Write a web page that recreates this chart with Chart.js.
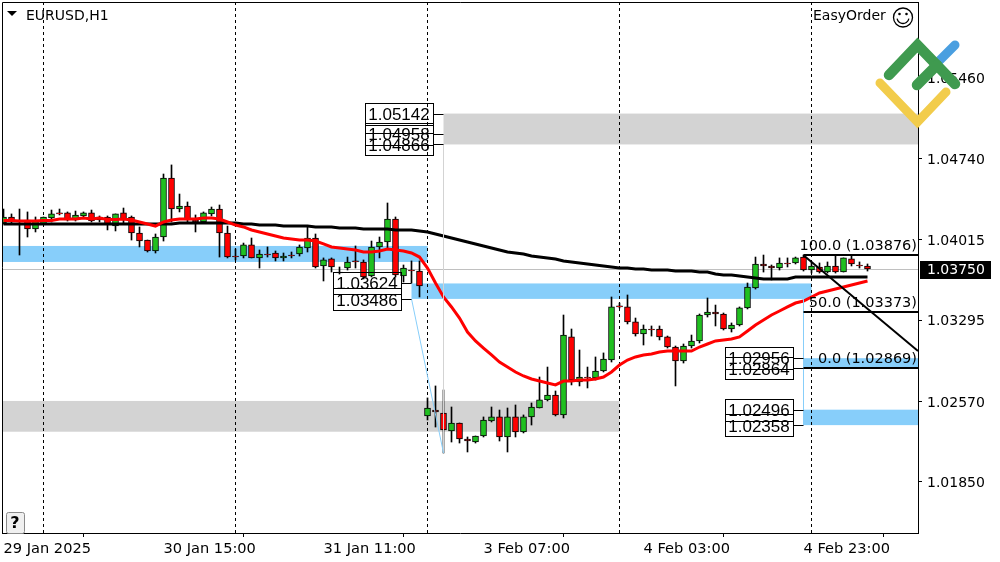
<!DOCTYPE html>
<html>
<head>
<meta charset="utf-8">
<style>html,body{margin:0;padding:0;background:#fff}canvas{display:block}</style>
<script src="https://cdn.jsdelivr.net/npm/chart.js@4/dist/chart.umd.min.js"></script>
</head>
<body>
<canvas id="c" width="1000" height="562"></canvas>
<script>
const symbolTitle = "EURUSD,H1";
const expertName = "EasyOrder";
const tickBars = [0, 20, 40, 60, 80, 100];
const tickLabels = ["29 Jan 2025", "30 Jan 15:00", "31 Jan 11:00", "3 Feb 07:00", "4 Feb 03:00", "4 Feb 23:00"];
const priceTicks = [1.0546, 1.0474, 1.04015, 1.03295, 1.0257, 1.0185];
const daySeparators = [5, 29, 53, 77, 101];
const bidPrice = 1.0375;

const opens = [1.04164,1.04218,1.04182,1.04191,1.04111,1.04155,1.04209,1.04254,1.04254,1.04191,
1.04227,1.04254,1.04218,1.04218,1.04137,1.04254,1.04218,1.04075,1.04012,1.03914,
1.04039,1.04566,1.04289,1.04316,1.04191,1.04173,1.04245,1.04289,1.04075,1.03869,
1.03869,1.03968,1.03852,1.03887,1.03896,1.03852,1.03878,1.03887,1.03941,1.04030,
1.03780,1.03843,1.03726,1.03762,1.03825,1.03816,1.03691,1.03950,1.03994,1.04200,
1.03691,1.03744,1.03735,1.02440,1.02493,1.02466,1.02306,1.02377,1.02234,1.02207,
1.02261,1.02395,1.02431,1.02252,1.02431,1.02297,1.02431,1.02511,1.02583,1.02627,
1.02449,1.03146,1.02743,1.02788,1.02779,1.02842,1.02940,1.03423,1.03414,1.03280,
1.03172,1.03217,1.03217,1.03146,1.03056,1.02931,1.03065,1.03110,1.03342,1.03369,
1.03351,1.03217,1.03253,1.03405,1.03583,1.03798,1.03780,1.03762,1.03807,1.03807,
1.03860,1.03744,1.03771,1.03726,1.03780,1.03726,1.03843,1.03789,1.03780];
const closes = [1.04218,1.04173,1.04173,1.04111,1.04182,1.04218,1.04245,1.04245,1.04191,1.04236,
1.04254,1.04182,1.04191,1.04155,1.04245,1.04191,1.04075,1.04003,1.03914,1.04039,
1.04566,1.04289,1.04316,1.04191,1.04173,1.04254,1.04289,1.04075,1.03860,1.03860,
1.03968,1.03852,1.03887,1.03878,1.03852,1.03869,1.03869,1.03950,1.04030,1.03771,
1.03834,1.03771,1.03717,1.03816,1.03816,1.03682,1.03950,1.03994,1.04200,1.03700,
1.03762,1.03735,1.03601,1.02511,1.02475,1.02315,1.02377,1.02234,1.02216,1.02261,
1.02404,1.02431,1.02252,1.02431,1.02297,1.02431,1.02520,1.02583,1.02627,1.02449,
1.03163,1.02761,1.02788,1.02779,1.02842,1.02949,1.03414,1.03414,1.03280,1.03172,
1.03217,1.03208,1.03146,1.03056,1.02931,1.03065,1.03110,1.03342,1.03369,1.03351,
1.03217,1.03253,1.03405,1.03592,1.03798,1.03780,1.03762,1.03807,1.03798,1.03852,
1.03744,1.03780,1.03726,1.03780,1.03726,1.03852,1.03798,1.03780,1.03753];
const highs = [1.04289,1.04245,1.04289,1.04263,1.04218,1.04218,1.04280,1.04289,1.04263,1.04271,
1.04263,1.04280,1.04227,1.04227,1.04245,1.04298,1.04227,1.04129,1.04012,1.04066,
1.04602,1.04683,1.04423,1.04352,1.04236,1.04263,1.04307,1.04325,1.04137,1.03932,
1.03985,1.04030,1.03923,1.03950,1.03914,1.03896,1.03905,1.03968,1.04129,1.04066,
1.03852,1.03852,1.03771,1.03860,1.03959,1.03834,1.04003,1.04039,1.04343,1.04218,
1.03789,1.03825,1.03825,1.02601,1.02708,1.02672,1.02520,1.02377,1.02252,1.02261,
1.02431,1.02520,1.02493,1.02511,1.02538,1.02449,1.02556,1.02788,1.02877,1.02663,
1.03342,1.03217,1.03029,1.02877,1.02967,1.03003,1.03503,1.03449,1.03521,1.03315,
1.03253,1.03244,1.03244,1.03154,1.03065,1.03083,1.03163,1.03351,1.03494,1.03431,
1.03360,1.03271,1.03414,1.03628,1.03860,1.03878,1.03789,1.03852,1.03852,1.03860,
1.03878,1.03816,1.03807,1.03816,1.03869,1.03852,1.03878,1.03816,1.03798];
const lows = [1.04155,1.04155,1.03878,1.04039,1.04084,1.04155,1.04173,1.04236,1.04182,1.04182,
1.04218,1.04173,1.04173,1.04102,1.04093,1.04155,1.04012,1.03950,1.03905,1.03896,
1.04003,1.04173,1.04263,1.04173,1.04084,1.04164,1.04227,1.03860,1.03852,1.03834,
1.03852,1.03852,1.03762,1.03860,1.03825,1.03825,1.03852,1.03869,1.03905,1.03762,
1.03646,1.03726,1.03708,1.03744,1.03762,1.03664,1.03682,1.03852,1.03941,1.03682,
1.03637,1.03628,1.03503,1.02404,1.02341,1.02109,1.02207,1.02198,1.02118,1.02198,
1.02252,1.02386,1.02216,1.02118,1.02252,1.02288,1.02359,1.02511,1.02574,1.02440,
1.02422,1.02717,1.02708,1.02690,1.02761,1.02833,1.02922,1.03405,1.03262,1.03154,
1.03074,1.03154,1.03119,1.03047,1.02708,1.02913,1.03047,1.03092,1.03324,1.03244,
1.03208,1.03190,1.03244,1.03396,1.03574,1.03726,1.03655,1.03744,1.03771,1.03798,
1.03735,1.03717,1.03717,1.03717,1.03717,1.03726,1.03780,1.03762,1.03735];
const fastMA = [1.04187,1.04187,1.04182,1.04182,1.04182,1.04187,1.04187,1.04200,1.04200,1.04200,
1.04209,1.04200,1.04209,1.04196,1.04196,1.04200,1.04191,1.04173,1.04155,1.04137,
1.04173,1.04191,1.04200,1.04200,1.04200,1.04209,1.04209,1.04200,1.04173,1.04146,
1.04129,1.04102,1.04084,1.04066,1.04048,1.04030,1.04021,1.04012,1.04012,1.04003,
1.03977,1.03950,1.03941,1.03932,1.03923,1.03905,1.03905,1.03914,1.03932,1.03923,
1.03914,1.03896,1.03860,1.03762,1.03628,1.03503,1.03414,1.03315,1.03190,1.03110,
1.03047,1.02985,1.02922,1.02877,1.02833,1.02797,1.02770,1.02752,1.02735,1.02717,
1.02752,1.02752,1.02761,1.02761,1.02770,1.02788,1.02833,1.02895,1.02940,1.02967,
1.02985,1.02994,1.03012,1.03020,1.03020,1.03020,1.03020,1.03056,1.03083,1.03110,
1.03119,1.03128,1.03146,1.03199,1.03253,1.03297,1.03342,1.03378,1.03414,1.03449,
1.03467,1.03503,1.03539,1.03557,1.03574,1.03592,1.03610,1.03628,1.03646];
const slowMA = [1.04155,1.04155,1.04155,1.04155,1.04155,1.04155,1.04155,1.04155,1.04155,1.04155,
1.04155,1.04155,1.04155,1.04155,1.04155,1.04155,1.04155,1.04155,1.04155,1.04155,
1.04155,1.04155,1.04164,1.04164,1.04164,1.04164,1.04164,1.04164,1.04164,1.04164,
1.04155,1.04155,1.04146,1.04146,1.04146,1.04137,1.04137,1.04137,1.04137,1.04129,
1.04129,1.04129,1.04120,1.04120,1.04120,1.04111,1.04111,1.04111,1.04111,1.04102,
1.04102,1.04102,1.04093,1.04084,1.04066,1.04048,1.04030,1.04012,1.03994,1.03977,
1.03959,1.03941,1.03923,1.03905,1.03896,1.03887,1.03869,1.03860,1.03852,1.03843,
1.03825,1.03816,1.03807,1.03798,1.03789,1.03780,1.03771,1.03762,1.03762,1.03753,
1.03753,1.03744,1.03744,1.03744,1.03735,1.03735,1.03735,1.03726,1.03726,1.03708,
1.03700,1.03700,1.03691,1.03682,1.03673,1.03664,1.03664,1.03664,1.03664,1.03682,
1.03682,1.03682,1.03682,1.03682,1.03682,1.03682,1.03682,1.03682,1.03682];

// [fromBar, toBar, highPrice, lowPrice]
const blueZones = [[-1, 53, 1.03959, 1.03816], [51, 101, 1.03624, 1.03486], [100, 120, 1.02956, 1.02864], [100, 120, 1.02496, 1.02358]];
const grayZones = [[55, 120, 1.05142, 1.04866], [-1, 77, 1.02574, 1.02299]];
const fibPrices = [1.03876, 1.03373, 1.02869];
const fibLabels = ["100.0 (1.03876)", "50.0 (1.03373)", "0.0 (1.02869)"];
const boxGroups = [[1.05142, 1.04958, 1.04866], [1.03624, 1.03486], [1.02956, 1.02864], [1.02496, 1.02358]];
const boxBars = [55, 51, 100, 100];
const swingDrop = [[51, 1.03486], [55, 1.02109]];
const zigzagPivot = [[55, 1.04866], [55, 1.02109]];
const fibSpine = [[100, 1.03486], [100, 1.02358]];
const fibDiagonal = [[100, 1.03876], [114.3125, 1.0302]];

const FONT = '"DejaVu Sans"';
const BOX_FONT = '17px "Liberation Sans"';
const BLUE = '#87cefa', GRAY = '#d3d3d3';
const candleFill = opens.map((o, i) => closes[i] >= o ? '#20c020' : '#ff0000');

Chart.defaults.font.family = FONT;
Chart.defaults.font.size = 14;
Chart.defaults.color = '#000';

function crisp(v) { return Math.floor(v) + 0.5; }

const sceneBelow = {
  id: 'sceneBelow',
  beforeDatasetsDraw(chart) {
    const { ctx, chartArea: a, scales: { x, y } } = chart;
    ctx.save();
    ctx.beginPath(); ctx.rect(a.left, a.top, a.right - a.left, a.bottom - a.top); ctx.clip();
    const band = (list, col) => {
      ctx.fillStyle = col;
      list.forEach(z => {
        const x0 = x.getPixelForValue(z[0]), x1 = x.getPixelForValue(z[1]);
        const y0 = y.getPixelForValue(z[2]), y1 = y.getPixelForValue(z[3]);
        ctx.fillRect(x0, y0, x1 - x0, y1 - y0);
      });
    };
    band(grayZones, GRAY);
    band(blueZones, BLUE);
    ctx.strokeStyle = '#c0c0c0'; ctx.lineWidth = 1;
    ctx.beginPath();
    const by = crisp(y.getPixelForValue(bidPrice));
    ctx.moveTo(a.left, by); ctx.lineTo(a.right, by); ctx.stroke();
    ctx.strokeStyle = '#000'; ctx.setLineDash([3, 3]);
    daySeparators.forEach(b => {
      const px = crisp(x.getPixelForValue(b));
      ctx.beginPath(); ctx.moveTo(px, a.top); ctx.lineTo(px, a.bottom); ctx.stroke();
    });
    ctx.setLineDash([]);
    ctx.restore();
  },
  afterDatasetsDraw(chart) {
    const { ctx, chartArea: a, scales: { x, y } } = chart;
    const seg = (pts, col, w) => {
      ctx.strokeStyle = col; ctx.lineWidth = w; ctx.beginPath();
      ctx.moveTo(x.getPixelForValue(pts[0][0]), y.getPixelForValue(pts[0][1]));
      ctx.lineTo(x.getPixelForValue(pts[1][0]), y.getPixelForValue(pts[1][1]));
      ctx.stroke();
    };
    ctx.save();
    ctx.beginPath(); ctx.rect(a.left, a.top, a.right - a.left, a.bottom - a.top); ctx.clip();
    seg(zigzagPivot, GRAY, 1);
    seg(swingDrop, BLUE, 1);
    seg(fibSpine, BLUE, 1);
    seg(fibDiagonal, '#000', 2);
    ctx.textBaseline = 'middle';
    fibPrices.forEach((p, k) => {
      const py = Math.round(y.getPixelForValue(p));
      ctx.strokeStyle = '#000'; ctx.lineWidth = 2;
      ctx.beginPath(); ctx.moveTo(x.getPixelForValue(100), py); ctx.lineTo(a.right, py); ctx.stroke();
      ctx.fillStyle = '#000'; ctx.font = '14.5px ' + FONT; ctx.textAlign = 'right';
      ctx.fillText(fibLabels[k], 917, py - 9);
    });
    ctx.restore();

    // Price boxes and their leader lines
    ctx.save();
    ctx.font = BOX_FONT; ctx.textBaseline = 'middle'; ctx.textAlign = 'center';
    ctx.strokeStyle = '#000'; ctx.lineWidth = 1; ctx.fillStyle = '#000';
    const boxW = 68;
    boxGroups.forEach((group, g) => {
      const barX = x.getPixelForValue(boxBars[g]);
      const right = Math.floor(barX) - 10;
      group.forEach((p, k) => {
        const py = Math.round(y.getPixelForValue(p));
        ctx.strokeRect(right - boxW + 0.5, py - 11 + 0.5, boxW, 22);
        ctx.beginPath(); ctx.moveTo(right, py + 0.5); ctx.lineTo(barX, py + 0.5); ctx.stroke();
        const last = k === group.length - 1;
        ctx.fillText(p.toFixed(5), right - boxW / 2, py + (last ? 2.5 : 1));
      });
    });
    ctx.restore();

    // Chart frame
    ctx.strokeStyle = '#000'; ctx.lineWidth = 1;
    ctx.beginPath();
    ctx.moveTo(a.left + 0.5, a.bottom); ctx.lineTo(a.left + 0.5, a.top + 0.5); ctx.lineTo(a.right, a.top + 0.5);
    ctx.stroke();
  },
  afterDraw(chart) {
    const { ctx, chartArea: a, scales: { y } } = chart;
    ctx.save();
    // Current price tag
    const tagY = Math.round(y.getPixelForValue(bidPrice));
    ctx.fillStyle = '#000'; ctx.fillRect(920, tagY - 8, 71, 18);
    ctx.fillStyle = '#fff'; ctx.font = '14px ' + FONT; ctx.textAlign = 'left'; ctx.textBaseline = 'middle';
    ctx.fillText(bidPrice.toFixed(5), 927, tagY + 1.5);
    // Title and corner texts
    ctx.fillStyle = '#000';
    ctx.beginPath(); ctx.moveTo(7, 11); ctx.lineTo(17, 11); ctx.lineTo(12, 16); ctx.closePath(); ctx.fill();
    ctx.fillText(symbolTitle, 26, 16);
    ctx.fillText(expertName, 813, 16);
    // Smiley
    ctx.strokeStyle = '#000'; ctx.lineWidth = 1.3;
    ctx.beginPath(); ctx.arc(903, 17.5, 9.5, 0, Math.PI * 2); ctx.stroke();
    ctx.beginPath(); ctx.arc(903, 17.5, 6, 0.2, Math.PI - 0.2); ctx.stroke();
    ctx.beginPath(); ctx.arc(899.5, 14, 1.3, 0, Math.PI * 2); ctx.arc(906.5, 14, 1.3, 0, Math.PI * 2); ctx.fill();
    // Help button
    ctx.fillStyle = '#f0f0f0'; ctx.strokeStyle = '#8a8a8a'; ctx.lineWidth = 1;
    ctx.beginPath(); ctx.roundRect(6.5, 512.5, 18, 21, 2); ctx.fill(); ctx.stroke();
    ctx.fillStyle = '#000'; ctx.font = 'bold 16px ' + FONT; ctx.textAlign = 'center';
    ctx.fillText('?', 15, 523.5);
    // Logo
    ctx.lineCap = 'round'; ctx.lineJoin = 'miter';
    const stroke = (pts, col, w) => {
      ctx.strokeStyle = col; ctx.lineWidth = w; ctx.beginPath();
      pts.forEach((p, i) => i ? ctx.lineTo(p[0], p[1]) : ctx.moveTo(p[0], p[1]));
      ctx.stroke();
    };
    stroke([[880, 83], [917.5, 122], [946, 92]], '#f2cc4b', 9);
    stroke([[938, 62], [955, 45]], '#4a9fe0', 9);
    stroke([[889, 75], [917.5, 45], [955, 84]], '#3f9a4f', 10.5);
    stroke([[917, 85], [937, 65]], '#3f9a4f', 10.5);
    ctx.restore();
  }
};

const bars = opens.map((_, i) => i);
function noScalePadding(s) { s.paddingTop = 0; s.paddingBottom = 0; s.paddingLeft = 0; s.paddingRight = 0; }

new Chart(document.getElementById('c'), {
  data: {
    datasets: [
      {
        type: 'line', label: 'Fast MA', order: 0,
        data: bars.map(i => ({ x: i, y: fastMA[i] })),
        borderColor: '#ff0000', borderWidth: 3, pointRadius: 0, tension: 0
      },
      {
        type: 'line', label: 'Slow MA', order: 1,
        data: bars.map(i => ({ x: i, y: slowMA[i] })),
        borderColor: '#000', borderWidth: 3, pointRadius: 0, tension: 0
      },
      {
        type: 'bar', label: 'Body', order: 2, grouped: false,
        data: bars.map(i => ({ x: i, y: [opens[i], closes[i]] })),
        backgroundColor: candleFill, borderColor: '#000', borderWidth: 1,
        borderSkipped: false, barThickness: 6
      },
      {
        type: 'bar', label: 'Wick', order: 3, grouped: false,
        data: bars.map(i => ({ x: i, y: [lows[i], highs[i]] })),
        backgroundColor: '#000', borderWidth: 0, barThickness: 1
      }
    ]
  },
  options: {
    responsive: false,
    animation: false,
    devicePixelRatio: 1,
    layout: { padding: { left: 2, top: 2, right: 0, bottom: 0 } },
    plugins: { legend: { display: false }, title: { display: false }, tooltip: { enabled: false } },
    scales: {
      x: {
        type: 'linear', position: 'bottom', min: -0.1875, max: 114.3125, offset: false,
        afterFit(s) { s.height = 29; noScalePadding(s); },
        afterBuildTicks(s) { s.ticks = tickBars.map(v => ({ value: v })); },
        grid: { display: true, drawOnChartArea: false, drawTicks: true, tickLength: 4, color: '#000' },
        border: { display: true, color: '#000', width: 1 },
        ticks: {
          autoSkip: false, maxRotation: 0, minRotation: 0, align: 'start', padding: 3, color: '#000',
          font: { size: 14.6, family: FONT },
          callback(v) { const k = tickBars.indexOf(v); return k >= 0 ? tickLabels[k] : ''; }
        }
      },
      y: {
        type: 'linear', position: 'right', min: 1.01394, max: 1.06139,
        afterFit(s) { s.width = 82; noScalePadding(s); },
        afterBuildTicks(s) { s.ticks = priceTicks.map(v => ({ value: v })); },
        grid: { display: true, drawOnChartArea: false, drawTicks: true, tickLength: 4, color: '#000' },
        border: { display: true, color: '#000', width: 1 },
        ticks: {
          autoSkip: false, padding: 5, labelOffset: 1.5, color: '#000', font: { size: 14, family: FONT },
          callback(v) { return v.toFixed(5); }
        }
      }
    }
  },
  plugins: [sceneBelow]
});
</script>
</body>
</html>
